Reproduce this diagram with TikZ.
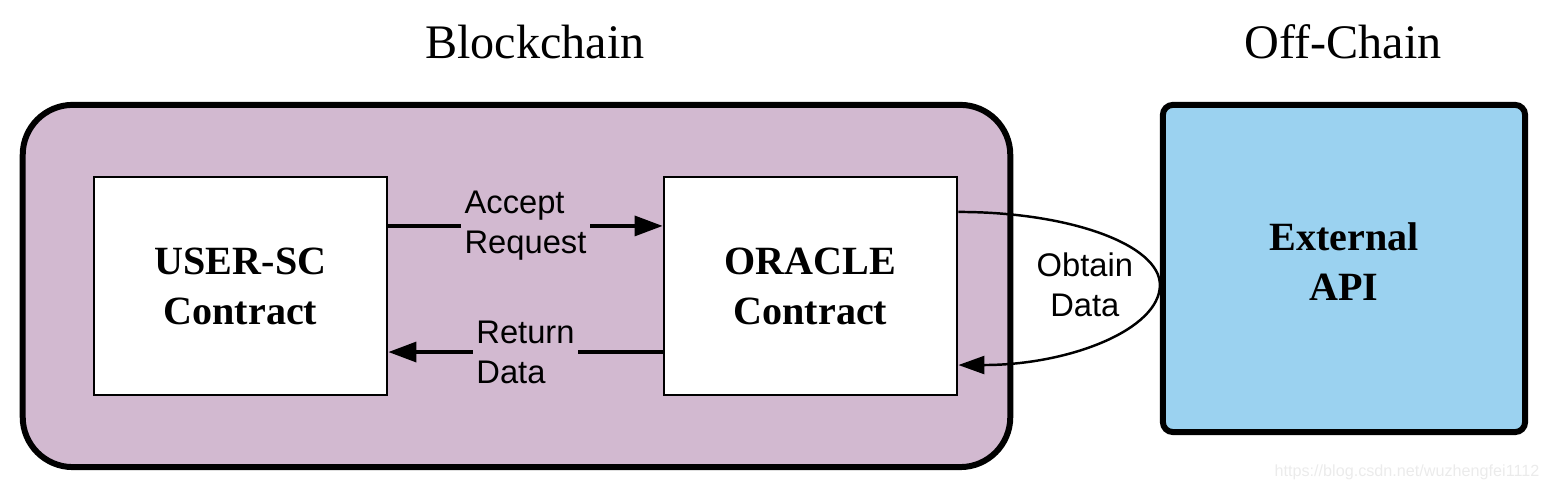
\documentclass[tikz,border=0pt]{standalone}
\usepackage{fontspec}
\setmainfont{Liberation Serif}
\newfontfamily\arialfont{Liberation Sans}
\usepackage{xcolor}
\usetikzlibrary{calc,positioning,arrows.meta}
\definecolor{chainpurple}{RGB}{210,185,208}
\definecolor{apiblue}{RGB}{155,210,240}

\begin{document}
\begin{tikzpicture}[x=0.01cm,y=0.01cm,
  box/.style={draw=black,line width=0.75pt,fill=white,minimum width=2.93cm,minimum height=2.18cm,align=center,font=\fontsize{11.4}{14.2}\selectfont\bfseries},
  flow/.style={line width=0.95pt,-{Triangle[length=0.28cm,width=0.2cm]}},
  lbl/.style={align=left,font=\arialfont\fontsize{9.3}{11.4}\selectfont,inner sep=1pt},
  title/.style={font=\fontsize{13.7}{16}\selectfont}]
\useasboundingbox (0,0) rectangle (1548,492);

\node [draw,line width=1.7pt,rounded corners=0.5cm,fill=chainpurple,minimum width=9.87cm,minimum height=3.62cm] (chain) at (516.5,206) {};
\node [draw,line width=1.7pt,rounded corners=0.1cm,fill=apiblue,minimum width=3.62cm,minimum height=3.27cm] (api) at (1344,223.5) {};
\node [align=center,font=\fontsize{11.4}{14.2}\selectfont\bfseries] (apitext) at ([yshift=0.07cm]api.center) {External\\API};
\node [title] (bc) at (535,450) {Blockchain};
\node [title] (off) at (1343,450) {Off-Chain};

\node [box] (user) at (240.5,206) {USER-SC\\Contract};
\node [box] (oracle) at (810.5,206) {ORACLE\\Contract};

\draw [flow] ([yshift=0.6cm]user.east) -- node [lbl,fill=chainpurple] (acc) {Accept\\Request} ([yshift=0.6cm]oracle.west);
\draw [flow] ([yshift=-0.66cm]oracle.west) -- node [lbl,fill=chainpurple] (ret) {Return\\Data} ([yshift=-0.66cm]user.east);

\coordinate (tip) at ([yshift=-0.165cm]api.west);
\draw [line width=0.7pt,-{Triangle[length=0.26cm,width=0.18cm]}] ([yshift=0.74cm]oracle.east) .. controls +(112,0) and +(0,40) .. (tip) .. controls +(0,-44) and +(112,0) .. ([yshift=-0.79cm]oracle.east);
\node [lbl,align=center] (obt) at ([xshift=-0.75cm]tip) {Obtain\\Data};

\node [font=\arialfont\fontsize{4.6}{5.5}\selectfont,text=black!8] (mark) at (1407,20) {https://blog.csdn.net/wuzhengfei1112};
\end{tikzpicture}
\end{document}
